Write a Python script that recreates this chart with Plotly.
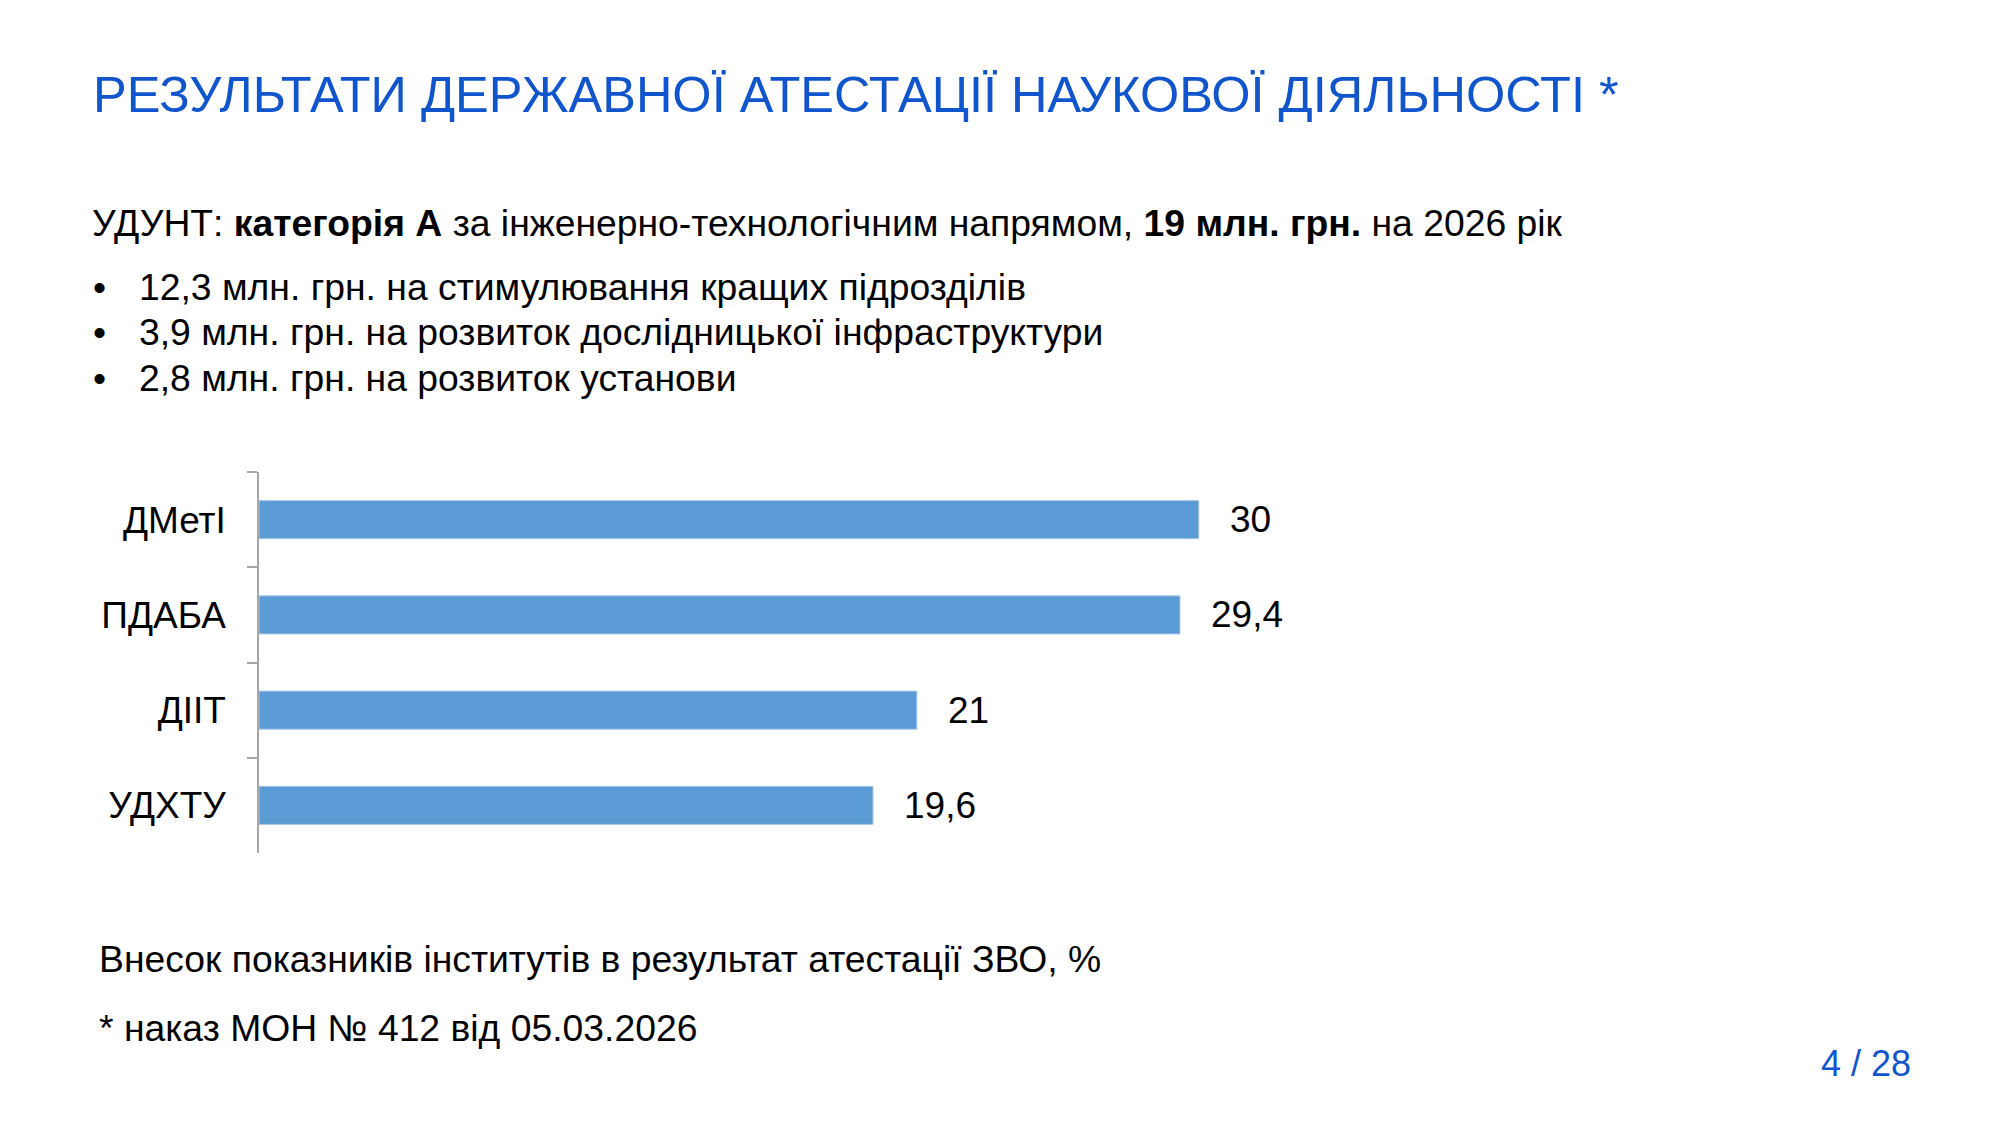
import plotly.graph_objects as go

W, H = 2000, 1125

categories = ["ДМетІ", "ПДАБА", "ДІІТ", "УДХТУ"]
values = [30, 29.4, 21, 19.6]
value_labels = ["30", "29,4", "21", "19,6"]

title_text = "РЕЗУЛЬТАТИ ДЕРЖАВНОЇ АТЕСТАЦІЇ НАУКОВОЇ ДІЯЛЬНОСТІ *"
subtitle_text = ("УДУНТ: <b>категорія А</b> за інженерно-технологічним напрямом, "
                 "<b>19 млн. грн.</b> на 2026 рік")
bullets = [
    "12,3 млн. грн. на стимулювання кращих підрозділів",
    "3,9 млн. грн. на розвиток дослідницької інфраструктури",
    "2,8 млн. грн. на розвиток установи",
]
note1 = "Внесок показників інститутів в результат атестації ЗВО, %"
note2 = "* наказ МОН № 412 від 05.03.2026"
page_text = "4 / 28"

FONT = "Liberation Sans, Arial, sans-serif"
BLUE = "#1155CC"
BAR = "#5B9BD5"
AXIS = "#A6A6A6"

# plot area in pixels
L, R, T, B = 259, 1512, 472, 853

fig = go.Figure()
fig.add_trace(go.Bar(
    x=values, y=categories, orientation="h",
    marker=dict(color=BAR, line=dict(color="#A9C8EA", width=1)),
    width=0.4, hoverinfo="skip",
))

def px_x(x):
    return (x - L) / (R - L)

def px_y(y):
    return (B - y) / (B - T)

ann = []
def txt(text, x, baseline, size, color="#000000", xanchor="left"):
    ann.append(dict(
        text=text, x=px_x(x), y=px_y(baseline - 0.35 * size),
        xref="paper", yref="paper", xanchor=xanchor, yanchor="middle",
        showarrow=False, align="left",
        font=dict(family=FONT, size=size, color=color),
    ))

BODY = 37.3
txt(title_text, 91, 112, 50.5, color=BLUE)
txt(subtitle_text, 90, 236, BODY)
for i, b in enumerate(bullets):
    base = [300, 345, 391][i]
    txt("•", 91, base, BODY)
    txt(b, 137, base, BODY)
txt(note1, 97, 972, BODY)
txt(note2, 97, 1041, BODY)
txt(page_text, 1913, 1076, 36, color=BLUE, xanchor="right")

for c, v, lab in zip(categories, values, value_labels):
    ann.append(dict(
        text=lab, x=v, y=c, xref="x", yref="y",
        xanchor="left", yanchor="middle", xshift=29, showarrow=False,
        font=dict(family=FONT, size=37, color="#000000"),
    ))

fig.update_layout(
    width=W, height=H,
    margin=dict(l=L, r=W - R, t=T, b=H - B, pad=0, autoexpand=False),
    paper_bgcolor="white", plot_bgcolor="white",
    showlegend=False,
    annotations=ann,
    xaxis=dict(range=[0, 40], visible=False, showgrid=False, zeroline=False),
    yaxis=dict(
        autorange="reversed", type="category", automargin=False,
        showline=True, linecolor=AXIS, linewidth=1.5,
        ticks="outside", tickson="boundaries", ticklen=10, tickcolor=AXIS, tickwidth=1.5,
        showgrid=False, zeroline=False,
        tickfont=dict(family=FONT, size=37, color="#000000"),
        ticklabelstandoff=24,
    ),
    bargap=0.6,
)

fig.write_html("out.html", config={"displayModeBar": False},
               post_script="document.body.style.margin='0';")
